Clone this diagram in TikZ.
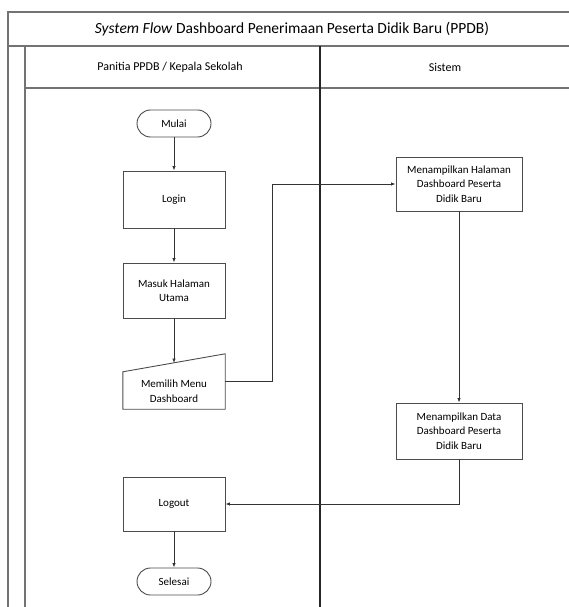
\documentclass[tikz,border=0pt]{standalone}
\usepackage{fontspec}
\setmainfont{Carlito}
\usetikzlibrary{arrows.meta}
\tikzset{
  frameline/.style={draw=black!55, line width=1.6pt},
  divline/.style={draw=black!85, line width=1.3pt},
  nodefont/.style={font=\fontsize{11}{14.5}\selectfont},
  procbox/.style={draw=black!70, line width=0.9pt, minimum width=102pt, inner sep=2pt, align=center, nodefont},
  termbox/.style={draw=black!70, line width=0.9pt, rounded corners=13.5pt, minimum width=74pt, minimum height=27pt, nodefont},
  flow/.style={draw=black!80, line width=0.8pt, -{Latex[length=4.5pt,width=3.5pt]}}
}
\begin{document}
\begin{tikzpicture}[x=1pt,y=-1pt]
\useasboundingbox (0,0) rectangle (569,607);
\clip (0,0) rectangle (569,607);
% frame
\draw[frameline] (8,620) -- (8,12) -- (580,12);
\draw[frameline] (8,46) -- (580,46);
\draw[frameline] (25,46) -- (25,620);
\draw[frameline] (25,88) -- (580,88);
\draw[divline] (320,46) -- (320,620);
\node[font=\fontsize{15.5}{18}\selectfont] (title) at (292,29) {\textit{System Flow} Dashboard Penerimaan Peserta Didik Baru (PPDB)};
\node[font=\fontsize{12}{14}\selectfont] (lane1) at (170,67) {Panitia PPDB / Kepala Sekolah};
\node[font=\fontsize{12}{14}\selectfont] (lane2) at (445,67) {Sistem};
% nodes
\node[termbox] (mulai) at (174,123.5) {Mulai};
\node[procbox, minimum height=57pt] (login) at (174,199.5) {Login};
\node[procbox, minimum height=55pt] (masuk) at (174,290.5) {Masuk Halaman\\Utama};
\node[minimum width=102pt, minimum height=55pt, inner sep=0pt] (mem) at (174,381.5) {};
\draw[draw=black!70, line width=0.9pt] (mem.south west) -- ([yshift=-18pt]mem.north west) -- (mem.north east) -- (mem.south east) -- cycle;
\node[align=center, nodefont] (memtxt) at (174,391) {Memilih Menu\\Dashboard};
\coordinate (memtop) at (174,363);
\node[procbox, minimum height=54pt] (logout) at (174,504) {Logout};
\node[termbox] (selesai) at (174,581.5) {Selesai};
\node[procbox, minimum width=126pt, minimum height=54pt] (hal) at (459,184) {Menampilkan Halaman\\Dashboard Peserta\\Didik Baru};
\node[procbox, minimum width=126pt, minimum height=56pt] (data) at (459,431) {Menampilkan Data\\Dashboard Peserta\\Didik Baru};
% connectors
\draw[flow] (mulai) -- (login);
\draw[flow] (login) -- (masuk);
\draw[flow] (masuk) -- (memtop);
\draw[flow] (mem.east) -- ++(47,0) |- (hal.west);
\draw[flow] (hal) -- (data);
\draw[flow] (data.south) |- (logout.east);
\draw[flow] (logout) -- (selesai);
\end{tikzpicture}
\end{document}
